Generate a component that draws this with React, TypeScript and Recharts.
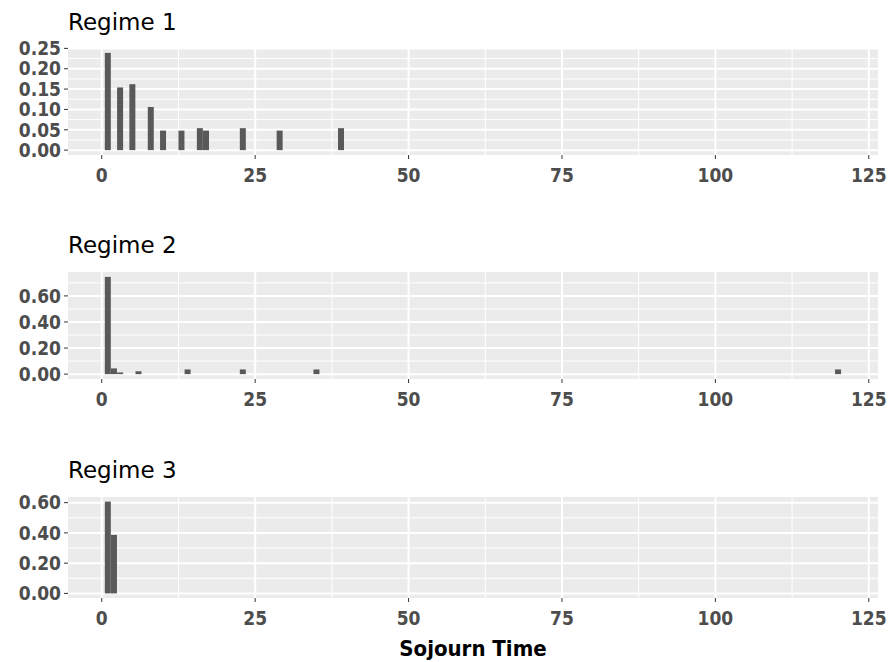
import { Bar, BarChart, CartesianGrid, XAxis, YAxis } from "recharts";

// sojourn-time bins (binwidth 1) and share of visits per regime
const regime1Bins = [1, 3, 5, 8, 10, 13, 16, 17, 23, 29, 39];
const regime1Share = [0.239, 0.154, 0.162, 0.106, 0.048, 0.048, 0.054, 0.048, 0.054, 0.048, 0.054];

const regime2Bins = [1, 2, 3, 6, 14, 23, 35, 120];
const regime2Share = [0.746, 0.044, 0.013, 0.022, 0.036, 0.036, 0.036, 0.036];

const regime3Bins = [1, 2];
const regime3Share = [0.607, 0.387];

const xTicks = [0, 25, 50, 75, 100, 125];
const xMinor = [12.5, 37.5, 62.5, 87.5, 112.5];

const regime1Ticks = [0, 0.05, 0.1, 0.15, 0.2, 0.25];
const regime1Minor = [0.025, 0.075, 0.125, 0.175, 0.225];
const regime23Ticks = [0, 0.2, 0.4, 0.6];
const regime2Minor = [0.1, 0.3, 0.5, 0.7];
const regime3Minor = [0.1, 0.3, 0.5];

const FONT = "DejaVu Sans";
const FONT_NARROW = "DejaVu Sans Condensed";
const tickStyle = { fill: "#4D4D4D", fontSize: 19, fontWeight: "bold", fontFamily: FONT_NARROW };
const X_DOMAIN: [number, number] = [-5.5, 126.5];

function toRows(bins: number[], share: number[]) {
  return bins.map((bin, i) => ({ bin, share: share[i] }));
}

interface PanelProps {
  top: number;
  height: number;
  axisHeight: number;
  bins: number[];
  share: number[];
  yTicks: number[];
  yMinor: number[];
  xLabel?: string;
}

function Panel({ top, height, axisHeight, bins, share, yTicks, yMinor, xLabel }: PanelProps) {
  const data = toRows(bins, share);
  const max = Math.max(...share);
  const yDomain: [number, number] = [-0.05 * max, 1.05 * max];

  return (
    <div style={{ position: "absolute", left: 0, top }}>
      <BarChart
        width={892}
        height={height}
        data={data}
        margin={{ top: 48, right: 14, bottom: 0, left: 0 }}
        barCategoryGap={0}
      >
        <CartesianGrid
          fill="#EBEBEB"
          stroke="#FFFFFF"
          strokeWidth={1}
          horizontalValues={yMinor}
          verticalValues={xMinor}
        />
        <CartesianGrid
          stroke="#FFFFFF"
          strokeWidth={2}
          horizontalValues={yTicks}
          verticalValues={xTicks}
        />
        <XAxis
          dataKey="bin"
          type="number"
          domain={X_DOMAIN}
          allowDataOverflow
          ticks={xTicks}
          interval={0}
          height={axisHeight}
          axisLine={false}
          tickLine={{ stroke: "#333333" }}
          tickSize={4}
          tickMargin={10}
          tick={tickStyle}
          label={
            xLabel
              ? {
                  value: xLabel,
                  position: "insideBottom",
                  offset: 6,
                  style: { fill: "#000000", fontSize: 22, fontWeight: "bold", fontFamily: FONT_NARROW },
                }
              : undefined
          }
        />
        <YAxis
          type="number"
          domain={yDomain}
          allowDataOverflow
          ticks={yTicks}
          interval={0}
          width={68}
          axisLine={false}
          tickLine={{ stroke: "#333333" }}
          tickSize={4}
          tickMargin={3}
          tick={tickStyle}
          tickFormatter={(v: number) => v.toFixed(2)}
        />
        <Bar dataKey="share" fill="#595959" isAnimationActive={false} />
      </BarChart>
    </div>
  );
}

export default function App() {
  return (
    <div
      style={{
        position: "absolute",
        left: 0,
        top: 0,
        width: 892,
        height: 662,
        background: "#FFFFFF",
        fontFamily: FONT,
      }}
    >
      <Panel
        top={0}
        height={200}
        axisHeight={45}
        bins={regime1Bins}
        share={regime1Share}
        yTicks={regime1Ticks}
        yMinor={regime1Minor}
      />
      <Panel
        top={224}
        height={200}
        axisHeight={45}
        bins={regime2Bins}
        share={regime2Share}
        yTicks={regime23Ticks}
        yMinor={regime2Minor}
      />
      <Panel
        top={449}
        height={213}
        axisHeight={64}
        bins={regime3Bins}
        share={regime3Share}
        yTicks={regime23Ticks}
        yMinor={regime3Minor}
        xLabel="Sojourn Time"
      />
      <svg
        width={892}
        height={662}
        style={{ position: "absolute", left: 0, top: 0, pointerEvents: "none" }}
      >
        <text x={68} y={30} fontSize={23} fontFamily={FONT} fill="#000000">Regime 1</text>
        <text x={68} y={253} fontSize={23} fontFamily={FONT} fill="#000000">Regime 2</text>
        <text x={68} y={478} fontSize={23} fontFamily={FONT} fill="#000000">Regime 3</text>
      </svg>
    </div>
  );
}
